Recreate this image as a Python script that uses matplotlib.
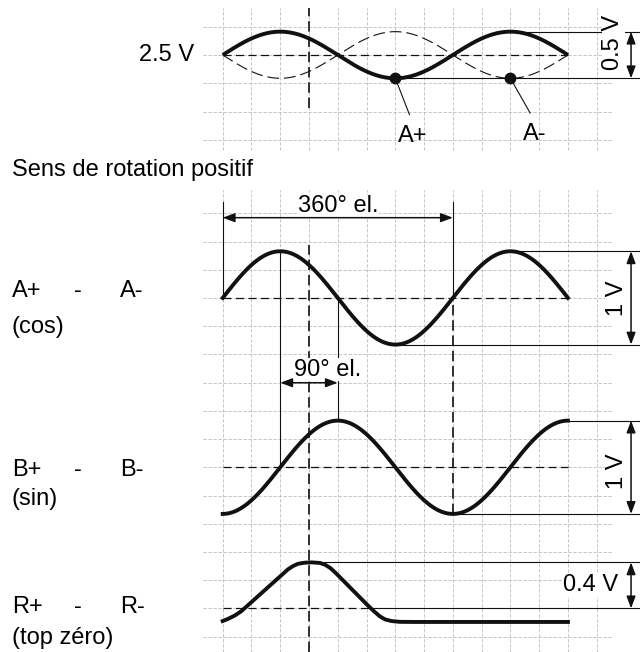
import numpy as np
import matplotlib
matplotlib.use('Agg')
import matplotlib.pyplot as plt
from matplotlib import rcParams

rcParams.update({'font.family': ['Liberation Sans', 'DejaVu Sans'], 'font.size': 17,
                 'lines.scale_dashes': False})

# signal data (electrical degrees / volts)
THETA_END = 540                      # curves drawn over 1.5 periods
TOP_OFFSET_V = 2.5
TOP_PP_V = 0.5                       # A+ and A- around 2.5 V
DIFF_NAMES = ['A+ - A-', 'B+ - B-']
DIFF_PHASE = [0, -90]                # A: starts rising, B: starts at trough
DIFF_PP_V = [1.0, 1.0]
DOT_ANGLES = [270, 450]              # A+ and A- markers
DOT_LABELS = ['A+', 'A-']

# zero reference pulse R+ - R-
R_DEG = [0, 8, 19, 29, 102, 110, 118, 128, 139, 152, 160, 168, 176,
         228, 238, 246, 254, 264, 277, 301, 540]
R_V = [-0.110, -0.092, -0.062, -0.025, 0.339, 0.368, 0.388, 0.397, 0.400,
       0.395, 0.380, 0.352, 0.312, 0.020, -0.032, -0.070, -0.096, -0.110,
       -0.117, -0.118, -0.118]
R_PP_V = 0.4

# layout (x in degrees, y in figure units of 1 V for A/B panels)
PX_DEG = 0.6393
Y_TOP, Y_A, Y_B, Y_R = 6.399, 3.795, 1.980, 0.4675
R_SCALE = 1.233
XR = 652.7
ARROW_X = 638.7

GRID_C = '#bcbcbc'
K = '#111111'

fig = plt.figure(figsize=(6.4, 6.52), dpi=100)
ax = fig.add_axes([0, 0, 1, 1])
ax.set_xlim(-222.7 / PX_DEG, XR)
ax.set_ylim(0, 652 / 93.3)
ax.axis('off')

gkw = dict(color=GRID_C, lw=0.6, dashes=(2.4, 1.2), zorder=1)
grid_x = np.arange(0, 586, 45)
# top grid block
for gx in grid_x:
    ax.plot([gx, gx], [5.380, 6.902], **gkw)
for k in [1, 0, -1, -2, -3]:
    ax.plot([-30.8, 609], [Y_TOP + 0.304 * k] * 2, **gkw)
# lower grid block
for gx in grid_x:
    ax.plot([gx, gx], [0, 4.952], **gkw)
for k in range(16):
    ax.plot([-30.8, 609], [4.702 - 0.3025 * k] * 2, **gkw)

dash = dict(color=K, lw=0.9, dashes=(5.8, 3.2), zorder=2)
heavy = dict(color=K, lw=1.2, dashes=(7.5, 3.5), zorder=2)
thin = dict(color=K, lw=0.8, zorder=2)

theta = np.linspace(0, THETA_END, 721)

# --- top: A+ and A- around 2.5 V
amp = TOP_PP_V / 2
ax.plot([0, THETA_END], [Y_TOP, Y_TOP], **dash)
ax.plot(theta, Y_TOP - amp * np.sin(np.radians(theta)), color=K, lw=0.8,
        dashes=(8.5, 3.5), zorder=2)
ax.plot(theta, Y_TOP + amp * np.sin(np.radians(theta)), color=K, lw=2.8, zorder=3,
        solid_capstyle='butt')
for ang, lab, tx, ty in zip(DOT_ANGLES, DOT_LABELS, [297.7, 488.5], [5.469, 5.488]):
    sgn = 1 if lab == 'A+' else -1
    yv = Y_TOP + sgn * amp * np.sin(np.radians(ang))
    ax.plot(ang, yv, 'o', color=K, ms=7.5, zorder=4)
    ax.plot([ang, ang + (tx - ang) * 0.8], [yv, ty + 0.29], **thin)
    ax.text(tx, ty, lab, ha='center', va='baseline')
ax.text(-44, Y_TOP, '%.1f V' % TOP_OFFSET_V, ha='right', va='center')
ax.plot([135, 135], [5.831, 6.902], **heavy)

ax.plot([450, XR], [Y_TOP + amp] * 2, **thin)
ax.plot([270, XR], [Y_TOP - amp] * 2, **thin)

arr = dict(arrowstyle='<|-|>,head_length=0.4,head_width=0.15', color=K, lw=1.1,
           shrinkA=0, shrinkB=0, mutation_scale=18)


def vdim(x, y0, y1, label, tx, ty):
    ax.annotate('', xy=(x, y0), xytext=(x, y1), arrowprops=arr, zorder=6)
    ax.text(tx, ty, label, rotation=90, ha='center', va='center', zorder=5,
            bbox=dict(fc='white', ec='none', pad=0.5))


vdim(ARROW_X, Y_TOP - amp, Y_TOP + amp, '%.1f V' % TOP_PP_V, 611.0, 6.533)

ax.text(-330, 5.102, 'Sens de rotation positif', ha='left', va='baseline')

# --- A and B differential signals
bases = [Y_A, Y_B]
for name, ph, pp, base in zip(DIFF_NAMES, DIFF_PHASE, DIFF_PP_V, bases):
    a = pp / 2
    ax.plot([0, THETA_END], [base, base], **dash)
    ax.plot(theta, base + a * np.sin(np.radians(theta + ph)), color=K, lw=2.8, zorder=3)

# A panel annotations
ax.plot([0, 0], [Y_A, 4.826], **thin)
ax.plot([360, 360], [Y_A, 4.826], **thin)
ax.text(180, 4.712, '360° el.', ha='center', va='baseline', zorder=5,
        bbox=dict(fc='white', ec='none', pad=0.5))
ax.annotate('', xy=(0, 4.655), xytext=(360, 4.655), arrowprops=arr, zorder=6)
ax.plot([450, XR], [Y_A + 0.5] * 2, **thin)
ax.plot([270, XR], [Y_A - 0.5] * 2, **thin)
vdim(ARROW_X, Y_A - 0.5, Y_A + 0.5, '1 V', 616.8, Y_A)

# phase shift between A and B
ax.plot([90, 90], [Y_A + 0.5, Y_B], **thin)
ax.plot([180, 180], [Y_A, Y_B + 0.5], **thin)
ax.text(164, 2.962, '90° el.', ha='center', va='baseline', zorder=5,
        bbox=dict(fc='white', ec='none', pad=0.5))
ax.annotate('', xy=(90, 2.886), xytext=(180, 2.886), arrowprops=arr, zorder=6)

ax.plot([135, 135], [0, 4.362], **heavy)
ax.plot([360, 360], [Y_B - 0.5, Y_A], **heavy)

ax.plot([540, XR], [Y_B + 0.5] * 2, **thin)
ax.plot([360, XR], [Y_B - 0.5] * 2, **thin)
vdim(ARROW_X, Y_B - 0.5, Y_B + 0.5, '1 V', 616.8, 1.940)

# --- R reference pulse
r_y = Y_R + np.array(R_V) * R_SCALE
ax.plot([0, 233], [Y_R, Y_R], **dash)
ax.plot([233, XR], [Y_R, Y_R], **thin)
ax.plot([158, XR], [Y_R + R_PP_V * R_SCALE] * 2, **thin)
ax.plot(R_DEG, r_y, color=K, lw=2.8, zorder=3, solid_joinstyle='round')
ax.annotate('', xy=(ARROW_X, Y_R), xytext=(ARROW_X, Y_R + R_PP_V * R_SCALE),
            arrowprops=arr, zorder=6)
ax.text(574.6, 0.718, '%.1f V' % R_PP_V, ha='center', va='center', zorder=5,
        bbox=dict(fc='white', ec='none', pad=0.5))

# left side labels
rows = [('A', '(cos)', 3.808, 3.419), ('B', '(sin)', 1.886, 1.576),
        ('R', '(top zéro)', 0.415, 0.0857)]
for letter, sub, yb, ys in rows:
    ax.text(-330, yb, letter + '+', ha='left', va='baseline')
    ax.text(-226.3, yb, '-', ha='center', va='baseline')
    ax.text(-160.6, yb, letter + '-', ha='left', va='baseline')
    ax.text(-330, ys, sub, ha='left', va='baseline')

fig.savefig('out.png', dpi=100)
